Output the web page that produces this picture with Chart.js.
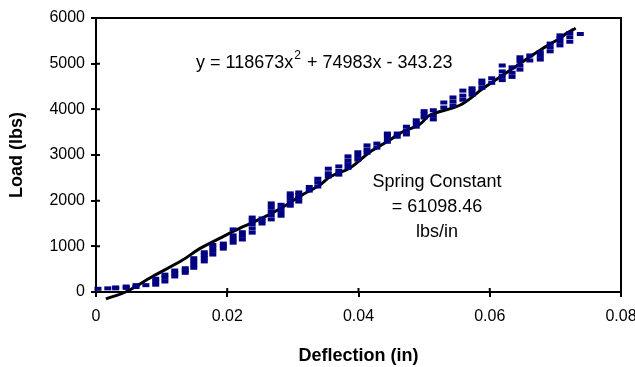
<!DOCTYPE html>
<html><head><meta charset="utf-8">
<script src="https://cdn.jsdelivr.net/npm/chart.js@4/dist/chart.umd.min.js"></script>
<style>html,body{margin:0;padding:0;overflow:hidden;background:#fff;width:635px;height:367px}canvas{display:block}</style>
</head><body>
<canvas id="c" width="660" height="367"></canvas>
<script>
// Measured data: deflection steps (in) and load readings (lbs) at each step
const deflectionSteps = [0.0003,0.0018,0.0030,0.0046,0.0061,0.0076,0.0091,0.0105,0.0120,0.0136,
  0.0149,0.0165,0.0178,0.0194,0.0209,0.0223,0.0238,0.0253,0.0267,0.0282,
  0.0296,0.0309,0.0325,0.0338,0.0354,0.0370,0.0384,0.0399,0.0413,0.0428,
  0.0444,0.0459,0.0473,0.0488,0.0500,0.0514,0.0530,0.0544,0.0559,0.0573,
  0.0588,0.0603,0.0619,0.0634,0.0646,0.0661,0.0677,0.0692,0.0707,0.0722,0.0738];
const loadReadings = [[70],[80],[80,100],[90,120],[110,150],[150],[160,230,290],[230,310,380],[340,410,470],[420,470,520],
  [530,600,670,740],[670,740,810,870],[820,900,970,1030],[950,1010,1060],[1080,1160,1240,1370],[1150,1230,1310],[1300,1390,1480,1560,1630],[1500,1560,1610],[1590,1680,1770,1860,1940],[1670,1750,1830,1910],
  [1890,1960,2040,2110,2160],[1980,2060,2130,2180],[2220,2300],[2310,2400,2480],[2530,2600,2700],[2570,2650,2750],[2720,2800,2880,2970],[2900,2980,3060],[3050,3120,3210],[3160,3250],
  [3290,3360,3430,3470],[3400,3470],[3450,3530,3620],[3620,3700,3760],[3820,3890,3960],[3780,3860,3980],[4040,4150],[4080,4170,4260],[4210,4300,4410],[4320,4400,4460],
  [4470,4560,4630],[4580,4680],[4640,4730,4830,4960],[4710,4800,4920],[4870,4960,5060,5140],[5070,5180],[5090,5170,5250],[5270,5360,5440],[5400,5480,5560,5620],[5480,5580,5670],[5650]];
// Black curve
const curveDeflection = [0.0015,0.0045,0.0086,0.0132,0.0158,0.0189,0.0224,0.0260,0.0290,0.0311,0.0341,0.0357,0.0387,0.0418,0.0448,0.0463,0.0494,0.0509,0.0555,0.0590,0.0620,0.0643,0.0677,0.0707,0.0717,0.0731];
const curveLoad = [-150,0,340,700,950,1180,1430,1665,1905,2100,2343,2525,2715,3072,3330,3475,3680,3876,4095,4460,4752,4971,5300,5555,5665,5775];
const xTicks = [0,0.02,0.04,0.06,0.08];
const yTicks = [0,1000,2000,3000,4000,5000,6000];
const equationParts = ['y = 118673x','2',' + 74983x - 343.23'];
const noteLines = ['Spring Constant','= 61098.46','lbs/in'];
const xTitle = 'Deflection (in)';
const yTitle = 'Load (lbs)';

const FONT = '"Liberation Sans", Arial, sans-serif';
const scatterPts = [];
deflectionSteps.forEach((d,i)=>loadReadings[i].forEach(l=>scatterPts.push({x:d,y:l})));
const curvePts = curveDeflection.map((d,i)=>({x:d,y:curveLoad[i]}));

const frame = {
  id:'frame',
  beforeDatasetsDraw(chart){
    const {ctx, chartArea:a, scales} = chart;
    ctx.save();
    ctx.strokeStyle='#000'; ctx.lineWidth=2;
    ctx.strokeRect(a.left,a.top,a.right-a.left,a.bottom-a.top);
    ctx.beginPath();
    scales.x.ticks.forEach((t,i)=>{const p=scales.x.getPixelForTick(i);ctx.moveTo(p,a.bottom);ctx.lineTo(p,a.bottom-4);});
    scales.y.ticks.forEach((t,i)=>{const p=scales.y.getPixelForTick(i);ctx.moveTo(a.left,p);ctx.lineTo(a.left+4,p);});
    ctx.stroke();
    ctx.restore();
  },
  afterDraw(chart){
    const {ctx} = chart;
    ctx.save();
    ctx.fillStyle='#000';
    ctx.textBaseline='middle';
    ctx.font='18px '+FONT;
    let x=196, y=63;
    ctx.textAlign='left';
    ctx.fillText(equationParts[0],x,y); x+=ctx.measureText(equationParts[0]).width;
    ctx.font='12px '+FONT;
    ctx.fillText(equationParts[1],x+1,y-7); x+=ctx.measureText(equationParts[1]).width+2;
    ctx.font='18px '+FONT;
    ctx.fillText(equationParts[2],x,y);
    ctx.textAlign='center';
    const ys=[182,207,232];
    noteLines.forEach((s,i)=>ctx.fillText(s,437,ys[i]));
    ctx.restore();
  }
};

new Chart(document.getElementById('c'),{
  type:'scatter',
  data:{datasets:[
    {data:scatterPts, showLine:false, pointStyle:'line', pointRadius:3.5, pointBorderWidth:4, borderColor:'#000080', backgroundColor:'#000080', clip:false},
    {data:curvePts, showLine:true, pointRadius:0, borderColor:'#000', borderWidth:3, tension:0.35, clip:false}
  ]},
  options:{
    responsive:false, animation:false, devicePixelRatio:1,
    layout:{padding:{left:0,top:18,right:39,bottom:0}},
    plugins:{legend:{display:false},tooltip:{enabled:false}},
    scales:{
      x:{type:'linear',min:0,max:0.08,
        afterBuildTicks:s=>{s.ticks=xTicks.map(v=>({value:v}));},
        afterFit:s=>{s.height=75;},
        ticks:{color:'#000',font:{family:FONT,size:16},padding:10,maxRotation:0,callback:v=>v===0?'0':v.toFixed(2)},
        grid:{drawOnChartArea:false,drawTicks:true,tickLength:5,color:'#000',lineWidth:2},
        border:{display:true,color:'#000',width:2},
        title:{display:true,text:xTitle,color:'#000',font:{family:FONT,size:18,weight:'bold'},padding:{top:2,bottom:0}}
      },
      y:{type:'linear',min:0,max:6000,
        afterBuildTicks:s=>{s.ticks=yTicks.map(v=>({value:v}));},
        afterFit:s=>{s.width=96;},
        ticks:{color:'#000',font:{family:FONT,size:16},padding:6,callback:v=>String(v)},
        grid:{drawOnChartArea:false,drawTicks:true,tickLength:5,color:'#000',lineWidth:2},
        border:{display:true,color:'#000',width:2},
        title:{display:true,text:yTitle,color:'#000',font:{family:FONT,size:18,weight:'bold'},padding:{top:6,bottom:0}}
      }
    }
  },
  plugins:[frame]
});
</script>
</body></html>
